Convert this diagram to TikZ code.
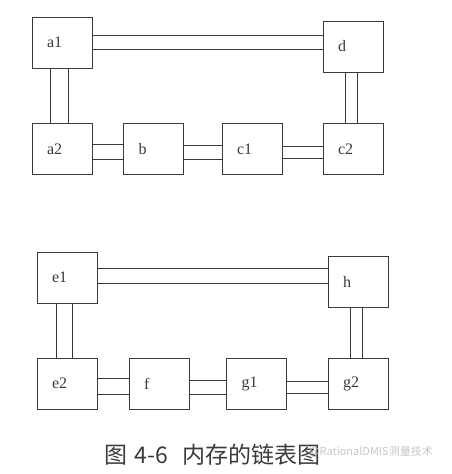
\documentclass[tikz,border=0pt]{standalone}
\usepackage{fontspec}
\setmainfont{Liberation Serif}
\newfontfamily\cjk{Noto Sans CJK SC}
\usetikzlibrary{positioning}
\definecolor{ink}{HTML}{3A3A3A}
\tikzset{cell/.style={draw=ink,line width=.9pt,minimum width=60pt,minimum height=51pt,text width=30pt,inner xsep=15pt,align=left,font=\fontsize{16}{18}\selectfont,text=ink},wire/.style={draw=ink,line width=.9pt}}

\begin{document}
\begin{tikzpicture}[x=1pt,y=-1pt]
\useasboundingbox (0,0) rectangle (452,474);
% first list
\node[cell] (a1) at (62,42.5) {a1};
\node[cell] (d) at (353,46.5) {d};
\node[cell] (a2) at (62,149) {a2};
\node[cell] (b) at (153.5,149) {b};
\node[cell] (c1) at (252,149) {c1};
\node[cell] (c2) at (353,149) {c2};
\draw[wire] ([yshift=7.5pt]a1.east) -- ([yshift=7.5pt]a1.east -| d.west) ([yshift=-6.5pt]a1.east) -- ([yshift=-6.5pt]a1.east -| d.west);
\draw[wire] ([xshift=-12pt]a1.south) -- ([xshift=-12pt]a1.south |- a2.north) ([xshift=6pt]a1.south) -- ([xshift=6pt]a1.south |- a2.north);
\draw[wire] ([yshift=5pt]a2.east) -- ([yshift=5pt]a2.east -| b.west) ([yshift=-10pt]a2.east) -- ([yshift=-10pt]a2.east -| b.west);
\draw[wire] ([yshift=4pt]b.east) -- ([yshift=4pt]b.east -| c1.west) ([yshift=-10pt]b.east) -- ([yshift=-10pt]b.east -| c1.west);
\draw[wire] ([yshift=3pt]c1.east) -- ([yshift=3pt]c1.east -| c2.west) ([yshift=-9pt]c1.east) -- ([yshift=-9pt]c1.east -| c2.west);
\draw[wire] ([xshift=-8pt]d.south) -- ([xshift=-8pt]d.south |- c2.north) ([xshift=4pt]d.south) -- ([xshift=4pt]d.south |- c2.north);
% second list
\node[cell] (e1) at (67,277.5) {e1};
\node[cell] (h) at (358,281.5) {h};
\node[cell] (e2) at (67,383.5) {e2};
\node[cell] (f) at (159,383.5) {f};
\node[cell] (g1) at (256.5,383.5) {g1};
\node[cell] (g2) at (358,383.5) {g2};
\draw[wire] ([yshift=9.5pt]e1.east) -- ([yshift=9.5pt]e1.east -| h.west) ([yshift=-5.5pt]e1.east) -- ([yshift=-5.5pt]e1.east -| h.west);
\draw[wire] ([xshift=-11pt]e1.south) -- ([xshift=-11pt]e1.south |- e2.north) ([xshift=5pt]e1.south) -- ([xshift=5pt]e1.south |- e2.north);
\draw[wire] ([yshift=5.5pt]e2.east) -- ([yshift=5.5pt]e2.east -| f.west) ([yshift=-10.5pt]e2.east) -- ([yshift=-10.5pt]e2.east -| f.west);
\draw[wire] ([yshift=3.5pt]f.east) -- ([yshift=3.5pt]f.east -| g1.west) ([yshift=-10.5pt]f.east) -- ([yshift=-10.5pt]f.east -| g1.west);
\draw[wire] ([yshift=2.5pt]g1.east) -- ([yshift=2.5pt]g1.east -| g2.west) ([yshift=-9.5pt]g1.east) -- ([yshift=-9.5pt]g1.east -| g2.west);
\draw[wire] ([xshift=-8pt]h.south) -- ([xshift=-8pt]h.south |- g2.north) ([xshift=4pt]h.south) -- ([xshift=4pt]h.south |- g2.north);
% caption
\node[font=\fontsize{23}{26}\cjk,text=ink,anchor=west] (cap) at (101,455) {图\hspace{7pt}4-6\hspace{14pt}内存的链表图};
\node[font=\fontsize{11}{13}\cjk,text=gray!45] (mark) at (371,452) {@RationalDMIS测量技术};
\end{tikzpicture}
\end{document}
